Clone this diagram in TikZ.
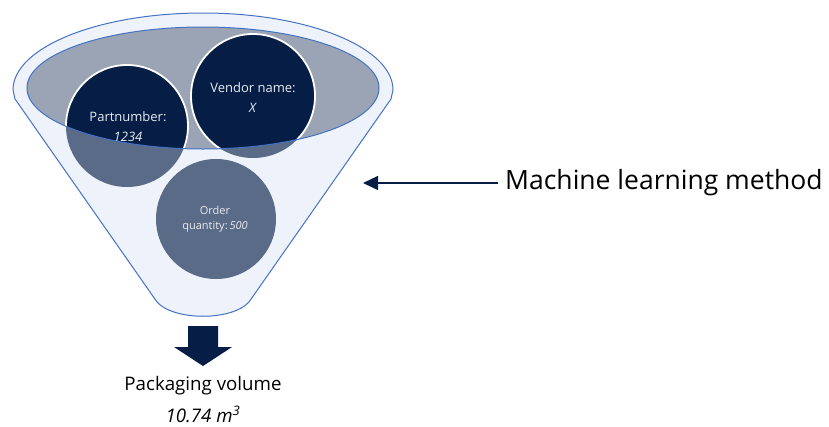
\documentclass[tikz,border=0pt]{standalone}
\usepackage{fontspec}
\setmainfont{Open Sans}
\usetikzlibrary{arrows.meta}
\definecolor{navy}{HTML}{061E45}
\definecolor{rimblue}{HTML}{4472C4}
\definecolor{funnelfill}{HTML}{EEF2FA}
\definecolor{mouthgray}{HTML}{9AA4B4}
\definecolor{ballgray}{HTML}{5A6B88}
\definecolor{labelwhite}{HTML}{E8EBF0}

\tikzset{
  rim/.style={draw=rimblue, line width=1pt},
  ballinside/.style={fill=navy, draw=white, line width=1.8pt},
  balloutside/.style={fill=ballgray},
  balltext/.style={text=labelwhite, align=center, inner sep=0pt,
    font=\fontsize{13}{20}\selectfont},
  smallballtext/.style={balltext, font=\fontsize{11}{15}\selectfont},
  bigtext/.style={text=black, inner sep=0pt, font=\fontsize{26.5}{30}\selectfont},
  outtext/.style={text=black, inner sep=0pt, anchor=base, font=\fontsize{18.7}{22}\selectfont},
}

\begin{document}
\begin{tikzpicture}[x=1pt,y=-1pt]
\useasboundingbox (0,0) rectangle (829,426);

% funnel body: top rim arc, tapered sides, rounded spout
\path[rim, fill=funnelfill]
  (13,90) arc[start angle=180, end angle=0, x radius=190pt, y radius=77pt]
  -- (391,99) -- (249,302)
  .. controls (232,321) and (174,321) .. (157,302)
  -- (15,99) -- cycle;

% the three input balls, lower (outside the mouth) colour
\fill[balloutside] (127,126) circle[radius=61pt];
\fill[balloutside] (253,96) circle[radius=62pt];
\fill[balloutside] (216,219) circle[radius=60pt];

% funnel mouth
\path[fill=mouthgray] (203,88) ellipse[x radius=176pt, y radius=61pt];

% ball parts seen through the mouth
\begin{scope}
  \clip (203,88) ellipse[x radius=176pt, y radius=61pt];
  \path[ballinside] (127,126) circle[radius=61pt];
  \path[ballinside] (253,96) circle[radius=62pt];
\end{scope}

% mouth outline on top
\path[rim] (203,88) ellipse[x radius=176pt, y radius=61pt];

% ball labels
\node[balltext] (pn) at (128,127) {Partnumber:\\\textit{1234}};
\node[balltext] (vn) at (253,97.5) {Vendor name:\\\textit{X}};
\node[smallballtext] (oq) at (215,219.5) {Order\\quantity:\,\textit{500}};

% output arrow
\path[fill=navy] (188,326) -- (218,326) -- (218,347) -- (232,347)
  -- (203,366) -- (174,347) -- (188,347) -- cycle;
\coordinate (spout) at (203,366);

% output labels
\node[outtext] (pv) at (203,390) {Packaging volume};
\node[outtext] (pvv) at (203,422) {\textit{10.74 m\textsuperscript{3}}};

% method label and pointer
\node[bigtext, anchor=west, inner xsep=7pt] (ml) at (498,183) {Machine learning method};
\coordinate (mltip) at (363,183);
\draw[navy, line width=1.2pt, -{Triangle[length=15pt, width=14pt]}] (ml.west) -- (mltip);
\end{tikzpicture}
\end{document}
